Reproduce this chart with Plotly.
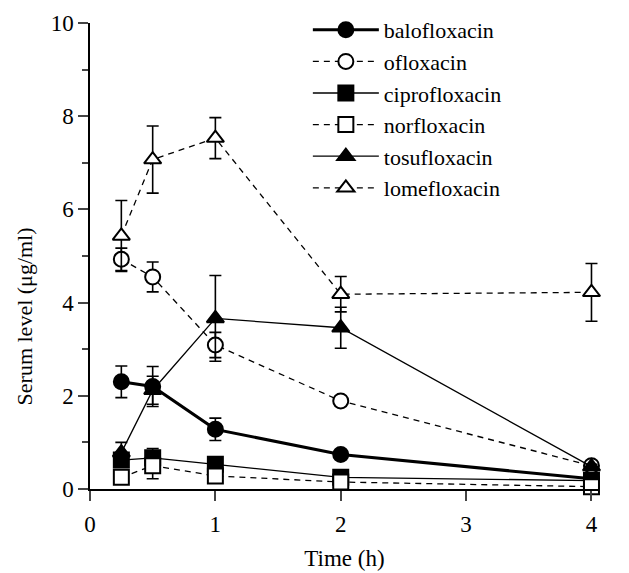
import plotly.graph_objects as go

times = [0.25, 0.5, 1, 2, 4]

drug_names = ["balofloxacin", "ofloxacin", "ciprofloxacin", "norfloxacin", "tosufloxacin", "lomefloxacin"]

balofloxacin = [2.30, 2.20, 1.28, 0.74, 0.22]
balofloxacin_sd = [0.34, 0.43, 0.24, 0.08, 0.05]

ofloxacin = [4.93, 4.55, 3.09, 1.89, 0.50]
ofloxacin_sd = [0.24, 0.32, 0.27, 0.10, 0.05]

ciprofloxacin = [0.62, 0.67, 0.53, 0.25, 0.18]
ciprofloxacin_sd = [0.08, 0.20, 0.06, 0.05, 0.03]

norfloxacin = [0.25, 0.50, 0.28, 0.15, 0.05]
norfloxacin_sd = [0.05, 0.28, 0.05, 0.03, 0.02]

tosufloxacin = [0.78, 2.12, 3.66, 3.46, 0.48]
tosufloxacin_sd = [0.22, 0.30, 0.92, 0.44, 0.05]

lomefloxacin = [5.43, 7.07, 7.53, 4.18, 4.22]
lomefloxacin_sd = [0.76, 0.72, 0.44, 0.38, 0.62]

x_ticks = [0, 1, 2, 3, 4]
y_ticks = [0, 2, 4, 6, 8, 10]
x_title = "Time (h)"
y_title = "Serum level (μg/ml)"

series = [
    (drug_names[0], balofloxacin, balofloxacin_sd, "circle", True, "solid", 3.0),
    (drug_names[1], ofloxacin, ofloxacin_sd, "circle", False, "dash", 1.3),
    (drug_names[2], ciprofloxacin, ciprofloxacin_sd, "square", True, "solid", 1.3),
    (drug_names[3], norfloxacin, norfloxacin_sd, "square", False, "dash", 1.3),
    (drug_names[4], tosufloxacin, tosufloxacin_sd, "triangle-up", True, "solid", 1.3),
    (drug_names[5], lomefloxacin, lomefloxacin_sd, "triangle-up", False, "dash", 1.3),
]

FONT = "Liberation Serif"
FS = 23

fig = go.Figure()
for name, vals, sd, sym, filled, dash, lw in series:
    fig.add_trace(go.Scatter(
        x=times, y=vals, name=name, mode="lines+markers",
        line=dict(color="black", width=lw, dash="6px,5px" if dash == "dash" else "solid"),
        marker=dict(symbol=sym, size=15, color="black" if filled else "white",
                    line=dict(color="black", width=2)),
        error_y=dict(type="data", array=sd, visible=True, color="black", thickness=1.6, width=6),
        cliponaxis=False,
    ))

fig.add_annotation(text=y_title, textangle=-90, xref="paper", yref="paper",
                   x=-0.128, y=0.37, xanchor="center", yanchor="middle", showarrow=False,
                   font=dict(size=22, family=FONT, color="black"))

fig.update_layout(
    width=629, height=573,
    margin=dict(l=82, r=38, t=15, b=92, autoexpand=False),
    plot_bgcolor="white", paper_bgcolor="white",
    font=dict(family=FONT, size=FS, color="black"),
    showlegend=True,
    legend=dict(x=0.428, y=1.03, xanchor="left", yanchor="top",
                bgcolor="rgba(0,0,0,0)", font=dict(size=22, family=FONT),
                itemwidth=66, tracegroupgap=0),
    xaxis=dict(range=[0, 4.06], tickvals=x_ticks, ticks="outside", ticklen=10, tickwidth=1.5,
               ticklabelstandoff=4,
               showline=True, linecolor="black", linewidth=1.5, showgrid=False, zeroline=False,
               title=dict(text=x_title, font=dict(size=FS, family=FONT), standoff=14),
               tickfont=dict(size=FS, family=FONT)),
    yaxis=dict(range=[0, 10], tickvals=y_ticks, ticks="outside", ticklen=10, tickwidth=1.5,
               showline=True, linecolor="black", linewidth=1.5, showgrid=False, zeroline=False,
               minor=dict(ticks="outside", dtick=1, ticklen=6, tickwidth=1.5, showgrid=False),
               tickfont=dict(size=FS, family=FONT)),
)

fig.write_html("out.html")
